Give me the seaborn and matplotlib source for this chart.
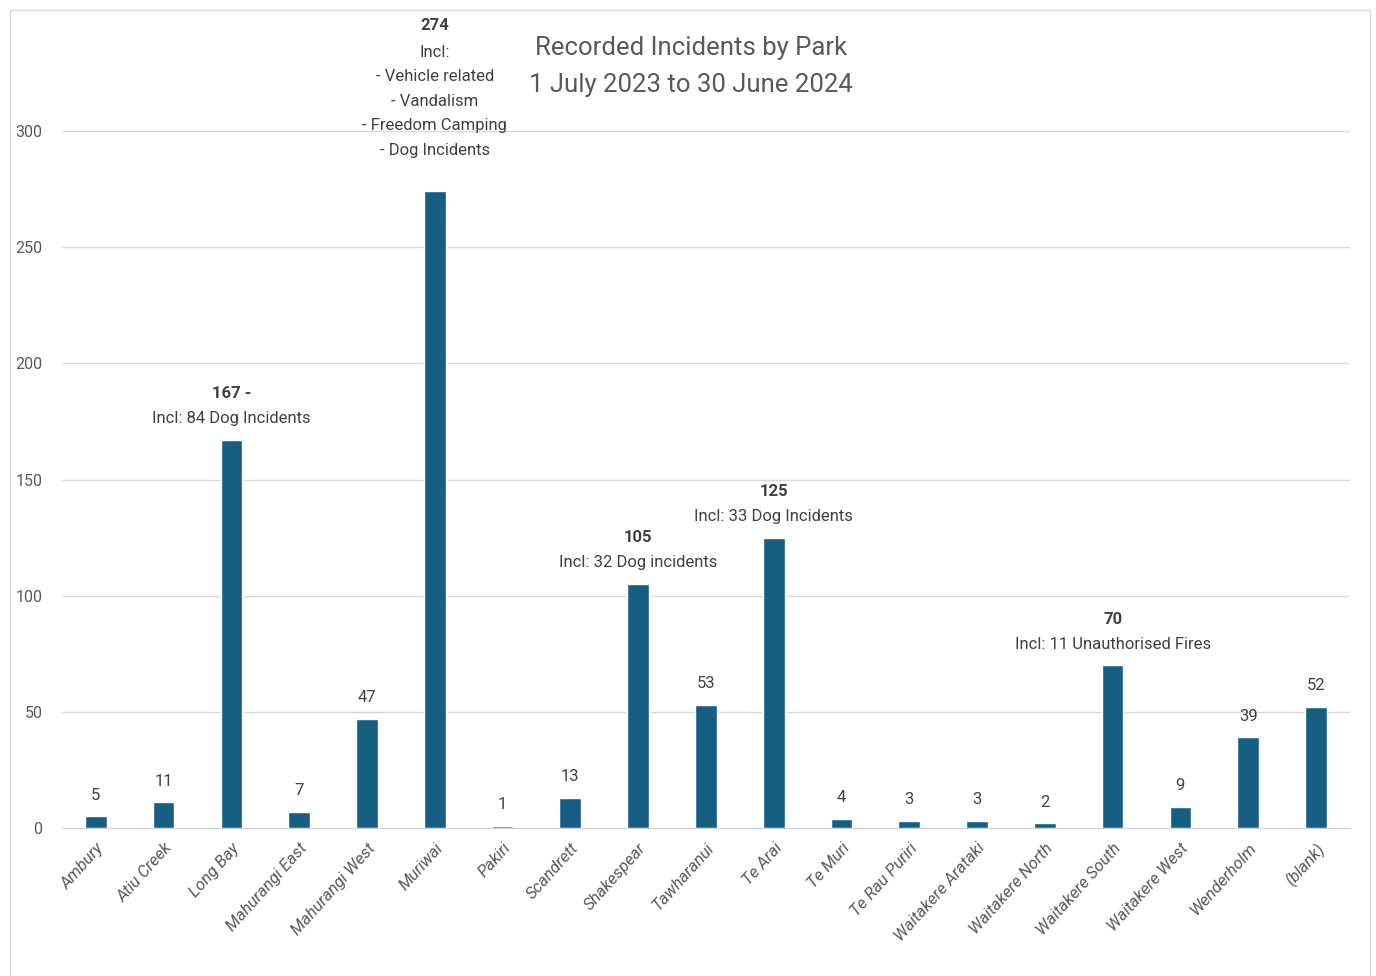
import matplotlib
matplotlib.use("Agg")
import matplotlib.pyplot as plt
import seaborn as sns
import pandas as pd
from matplotlib.patches import Rectangle

# Data
parks = [
    "Ambury", "Atiu Creek", "Long Bay", "Mahurangi East", "Mahurangi West",
    "Muriwai", "Pakiri", "Scandrett", "Shakespear", "Tawharanui", "Te Arai",
    "Te Muri", "Te Rau Puriri", "Waitakere Arataki", "Waitakere North",
    "Waitakere South", "Waitakere West", "Wenderholm", "(blank)",
]
incidents = [5, 11, 167, 7, 47, 274, 1, 13, 105, 53, 125, 4, 3, 3, 2, 70, 9, 39, 52]

# extra notes under the bold value label
notes = {
    "Long Bay": "Incl: 84 Dog Incidents",
    "Muriwai": "Incl:\n- Vehicle related\n- Vandalism\n- Freedom Camping\n- Dog Incidents",
    "Shakespear": "Incl: 32 Dog incidents",
    "Te Arai": "Incl: 33 Dog Incidents",
    "Waitakere South": "Incl: 11 Unauthorised Fires",
}
value_text = {"Long Bay": "167 -"}

title_lines = ["Recorded Incidents by Park", "1 July 2023 to 30 June 2024"]
yticks = [0, 50, 100, 150, 200, 250, 300]

BAR = "#175E83"
GREY = "#595959"
FONT = ["Roboto", "DejaVu Sans"]

sns.set_style("white")
plt.rcParams["font.family"] = FONT

df = pd.DataFrame({"Park": parks, "Incidents": incidents})

fig = plt.figure(figsize=(13.76, 9.76), dpi=100)
ax = fig.add_axes([0.045, 0.1516, 0.936, 0.7142])

sns.barplot(data=df, x="Park", y="Incidents", color=BAR, saturation=1,
            width=0.32, ax=ax)

ax.set_xlim(-0.5, len(parks) - 0.5)
ax.set_ylim(0, 300)
ax.set_yticks(yticks)
ax.yaxis.grid(True, color="#d9d9d9", linewidth=1)
ax.set_axisbelow(True)
for s in ["left", "right", "top"]:
    ax.spines[s].set_visible(False)
ax.spines["bottom"].set_color("#d0d0d0")
ax.tick_params(axis="both", length=0, colors=GREY, labelsize=11.5)
ax.tick_params(axis="y", pad=14)
ax.tick_params(axis="x", pad=9)
ax.set_xlabel("")
ax.set_ylabel("")
plt.setp(ax.get_xticklabels(), rotation=48, ha="right", rotation_mode="anchor",
         fontstyle="italic", color=GREY, fontsize=12)

# value labels
LINE_PT = 18  # ~25 px between label lines
for i, (park, v) in enumerate(zip(parks, incidents)):
    if park in notes:
        lbl = value_text.get(park, str(v))
        off = 24 if park == "Muriwai" else 10
        ax.annotate(notes[park], xy=(i, v), xytext=(0, off), textcoords="offset points",
                    ha="center", va="bottom", fontsize=12, color="#404040",
                    linespacing=1.8, annotation_clip=False)
        n = notes[park].count("\n") + 1
        ax.annotate(lbl, xy=(i, v), xytext=(0, off + n * LINE_PT),
                    textcoords="offset points", ha="center", va="bottom",
                    fontsize=12, fontweight="bold", color="#404040",
                    annotation_clip=False)
    else:
        ax.annotate(str(v), xy=(i, v), xytext=(0, 10), textcoords="offset points",
                    ha="center", va="bottom", fontsize=12, color="#404040",
                    annotation_clip=False)

fig.text(0.502, 0.951, title_lines[0], ha="center", va="center", fontsize=18.5, color=GREY)
fig.text(0.502, 0.913, title_lines[1], ha="center", va="center", fontsize=18.5, color=GREY)

# light frame around the chart area
fig.patches.append(Rectangle((0.0073, -0.01), 0.9884, 0.9997, transform=fig.transFigure,
                             fill=False, edgecolor="#d9d9d9", linewidth=1))

fig.savefig("out.png", dpi=100)
